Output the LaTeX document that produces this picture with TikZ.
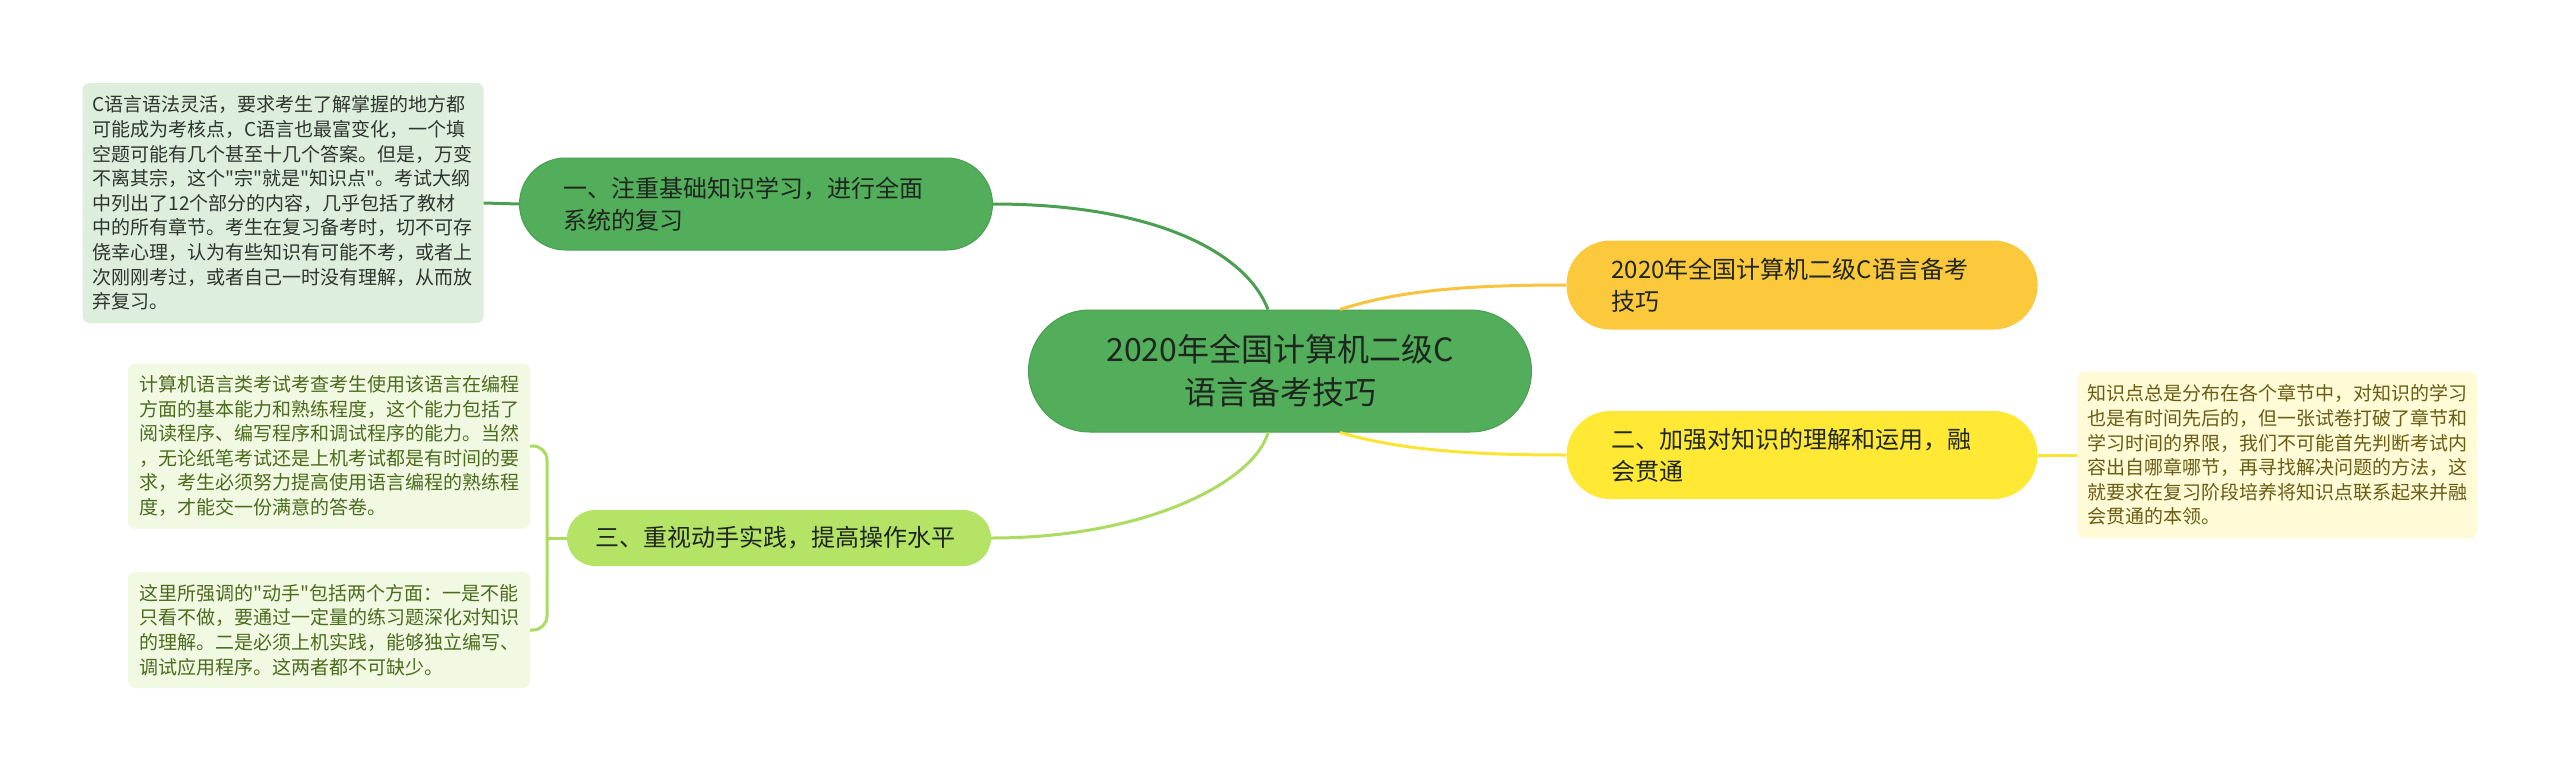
\documentclass[tikz,border=0pt]{standalone}
\usepackage{fontspec}
\newfontfamily\cjk{Noto Sans CJK SC}
\usepackage{xcolor}
\usepackage{tikz}

\definecolor{mainGreen}{HTML}{52AE5A}
\definecolor{mainGreenLine}{HTML}{4A9F51}
\definecolor{orangeFill}{HTML}{FCC83C}
\definecolor{orangeLine}{HTML}{F8C43E}
\definecolor{yellowFill}{HTML}{FFE935}
\definecolor{yellowLine}{HTML}{FBE533}
\definecolor{limeFill}{HTML}{B4E366}
\definecolor{limeLine}{HTML}{ABDC60}
\definecolor{leafGreen}{HTML}{DDEEDC}
\definecolor{leafLime}{HTML}{F1F9E3}
\definecolor{leafYellow}{HTML}{FEFBD6}
\definecolor{textDark}{HTML}{1F261F}
\definecolor{textLeaf}{HTML}{2E352E}
\definecolor{textOlive}{HTML}{4C6B1C}
\definecolor{textBrown}{HTML}{6A5C14}

\tikzset{
  topic/.style={rectangle, align=left, text=textDark, inner ysep=0pt,
    font=\cjk\fontsize{24}{32}\selectfont},
  leaf/.style={rectangle, rounded corners=7pt, align=left, inner ysep=0pt,
    font=\cjk\fontsize{19}{24.6}\selectfont},
  branch/.style={line width=3pt},
}

\begin{document}
\begin{tikzpicture}[x=1pt, y=-1pt]
  \useasboundingbox[fill=white] (0,0) rectangle (2560,771);

  % root
  \node[rectangle, rounded corners=61pt, fill=mainGreen, draw=mainGreenLine, line width=1pt,
    align=center, text=textDark, text width=443pt, inner xsep=30pt, inner ysep=0pt,
    minimum height=122pt, font=\cjk\fontsize{32}{43}\selectfont]
    (root) at (1280,371) {2020年全国计算机二级C\\语言备考技巧};

  % first level
  \node[topic, fill=mainGreen, draw=mainGreenLine, line width=1pt, rounded corners=46pt,
    text width=385pt, inner xsep=44pt, minimum height=92pt]
    (basics) at (756,204) {一、注重基础知识学习，进行全面\\系统的复习};
  \node[topic, fill=orangeFill, rounded corners=44pt,
    text width=381pt, inner xsep=45pt, minimum height=89pt]
    (title) at (1802,285) {2020年全国计算机二级C语言备考\\技巧};
  \node[topic, fill=yellowFill, rounded corners=44pt,
    text width=381pt, inner xsep=45pt, minimum height=88pt]
    (apply) at (1802,455) {二、加强对知识的理解和运用，融\\会贯通};
  \node[topic, fill=limeFill, rounded corners=28pt,
    text width=368pt, inner xsep=28pt, minimum height=56pt]
    (practice) at (779,538) {三、重视动手实践，提高操作水平};

  % leaves
  \node[leaf, fill=leafGreen, text=textLeaf, text width=381pt, inner xsep=10pt,
    minimum height=240pt] (basicsNote) at (283,203)
    {C语言语法灵活，要求考生了解掌握的地方都\\
     可能成为考核点，C语言也最富变化，一个填\\
     空题可能有几个甚至十几个答案。但是，万变\\
     不离其宗，这个"宗"就是"知识点"。考试大纲\\
     中列出了12个部分的内容，几乎包括了教材\\
     中的所有章节。考生在复习备考时，切不可存\\
     侥幸心理，认为有些知识有可能不考，或者上\\
     次刚刚考过，或者自己一时没有理解，从而放\\
     弃复习。};
  \node[leaf, fill=leafLime, text=textOlive, text width=380pt, inner xsep=11pt,
    minimum height=165pt] (practiceNoteA) at (329,446)
    {计算机语言类考试考查考生使用该语言在编程\\
     方面的基本能力和熟练程度，这个能力包括了\\
     阅读程序、编写程序和调试程序的能力。当然\\
     ，无论纸笔考试还是上机考试都是有时间的要\\
     求，考生必须努力提高使用语言编程的熟练程\\
     度，才能交一份满意的答卷。};
  \node[leaf, fill=leafLime, text=textOlive, text width=380pt, inner xsep=11pt,
    minimum height=116pt] (practiceNoteB) at (329,630)
    {这里所强调的"动手"包括两个方面：一是不能\\
     只看不做，要通过一定量的练习题深化对知识\\
     的理解。二是必须上机实践，能够独立编写、\\
     调试应用程序。这两者都不可缺少。};
  \node[leaf, fill=leafYellow, text=textBrown, text width=380pt, inner xsep=10pt,
    minimum height=166pt] (applyNote) at (2277,455)
    {知识点总是分布在各个章节中，对知识的学习\\
     也是有时间先后的，但一张试卷打破了章节和\\
     学习时间的界限，我们不可能首先判断考试内\\
     容出自哪章哪节，再寻找解决问题的方法，这\\
     就要求在复习阶段培养将知识点联系起来并融\\
     会贯通的本领。};

  % connectors
  \draw[branch, mainGreenLine] (basics.east) .. controls (1150,204) and (1245,250) .. ([xshift=-12pt]root.north);
  \draw[branch, orangeLine] ([xshift=60pt]root.north) .. controls (1400,290) and (1470,285) .. (title.west);
  \draw[branch, yellowLine] ([xshift=60pt]root.south) .. controls (1400,450) and (1470,455) .. (apply.west);
  \draw[branch, limeLine] ([xshift=-12pt]root.south) .. controls (1255,480) and (1150,538) .. (practice.east);

  \draw[branch, mainGreenLine] (basicsNote.east) -- (basics.west);
  \draw[branch, yellowLine] (apply.east) -- (applyNote.west);

  \coordinate (fork) at (547,538);
  \draw[branch, limeLine] (practice.west) -- (fork);
  \draw[branch, limeLine, rounded corners=14pt] (practiceNoteA.east) -| (fork) |- (practiceNoteB.east);
\end{tikzpicture}
\end{document}
